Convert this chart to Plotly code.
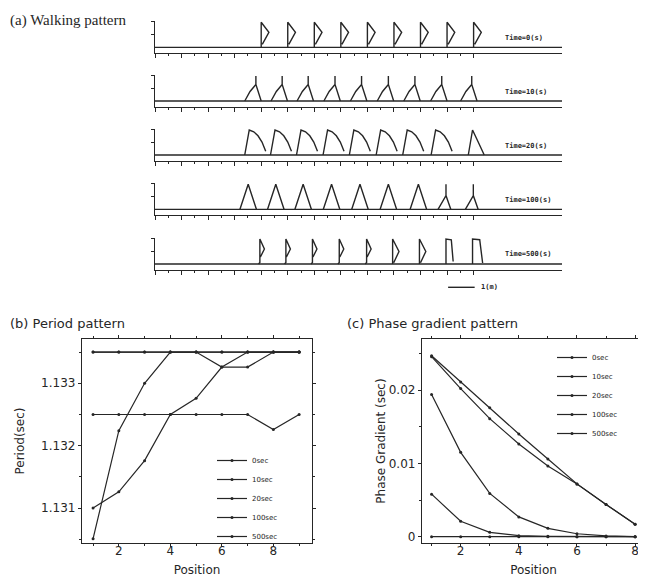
import plotly.graph_objects as go

# page body has an 8px margin: figure is sized so it ends at the window edge
OFF = 8
W, H = 646 - OFF, 577 - OFF
INK = "#262626"

# ---------------- (a) Walking pattern data ----------------
strip_labels = ["Time=0(s)", "Time=10(s)", "Time=20(s)", "Time=100(s)", "Time=500(s)"]
# reference x position (m) of each of the 9 legs in each strip
legs_t0 = [4.0, 5.0, 6.0, 7.0, 8.0, 9.0, 10.0, 11.0, 12.0]
legs_t10 = [3.80, 4.79, 5.77, 6.78, 7.78, 8.79, 9.79, 10.80, 11.93]
legs_t20 = [3.55, 4.52, 5.50, 6.50, 7.49, 8.50, 9.50, 10.57, 11.96]
legs_t100 = [3.51, 4.55, 5.58, 6.65, 7.72, 8.79, 9.92, 10.96, 11.99]
legs_t500 = [3.95, 4.93, 5.93, 6.94, 7.97, 8.95, 9.96, 10.96, 11.96]
# leg trajectory outlines: (dx in m, height as fraction of leg height)
leg_D_dx = [0, 0, 0.29, 0.04]
leg_D_dy = [0, 1, 0.6, 0.12]
leg_L_dx = [-0.42, -0.22, 0, 0, 0, 0.2]
leg_L_dy = [0, 0.38, 0.66, 1, 0.66, 0]
leg_A_dx = [-0.17, 0, 0.17, 0.33, 0.48, 0.62]
leg_A_dy = [0, 1, 0.93, 0.77, 0.52, 0.15]
leg_A9_dx = [-0.16, 0, 0.2, 0.44]
leg_A9_dy = [0, 1, 0.55, 0]
leg_T_dx = [-0.31, 0, 0.31]
leg_T_dy = [0, 1, 0]
leg_L2_dx = [-0.3, -0.1, 0, 0, 0, 0.18]
leg_L2_dy = [0, 0.35, 0.55, 1, 0.55, 0]
leg_P_dx = [-0.05, 0, 0, 0.17, 0.02]
leg_P_dy = [0, 0.06, 1, 0.6, 0.28]
leg_D2_dx = [0, 0, 0.24, 0.04]
leg_D2_dy = [0, 1, 0.5, 0.05]
leg_N1_dx = [0, 0, 0.2, 0.27]
leg_N1_dy = [0, 1, 0.97, 0.1]
leg_N2_dx = [0, 0, 0.27, 0.38]
leg_N2_dy = [0, 1, 0.97, 0.04]
templates = {
    "D": (leg_D_dx, leg_D_dy), "L": (leg_L_dx, leg_L_dy), "A": (leg_A_dx, leg_A_dy),
    "A9": (leg_A9_dx, leg_A9_dy), "T": (leg_T_dx, leg_T_dy), "L2": (leg_L2_dx, leg_L2_dy),
    "P": (leg_P_dx, leg_P_dy), "D2": (leg_D2_dx, leg_D2_dy), "N1": (leg_N1_dx, leg_N1_dy),
    "N2": (leg_N2_dx, leg_N2_dy),
}
strip_legs = [legs_t0, legs_t10, legs_t20, legs_t100, legs_t500]
strip_kinds = [
    ["D"] * 9,
    ["L"] * 9,
    ["A"] * 8 + ["A9"],
    ["T"] * 7 + ["L2", "L2"],
    ["P"] * 5 + ["D2", "D2", "N1", "N2"],
]
ruler_major = list(range(0, 13))
ruler_minor = [i + 0.5 for i in range(0, 12)]
scale_bar_start = 11.04
scale_bar_len = 1.0

# ---------------- (b) Period pattern data ----------------
pos_b = [1, 2, 3, 4, 5, 6, 7, 8, 9]
period_0s = [1.1325, 1.1325, 1.1325, 1.1325, 1.1325, 1.1325, 1.1325, 1.13226, 1.1325]
period_10s = [1.13051, 1.13224, 1.13300, 1.13350, 1.13350, 1.13350, 1.13350, 1.13350, 1.13350]
period_20s = [1.13100, 1.13126, 1.13176, 1.13250, 1.13276, 1.13326, 1.13350, 1.13350, 1.13350]
period_100s = [1.1335, 1.1335, 1.1335, 1.1335, 1.1335, 1.13326, 1.13326, 1.1335, 1.1335]
period_500s = [1.1335, 1.1335, 1.1335, 1.1335, 1.1335, 1.1335, 1.1335, 1.1335, 1.1335]
b_xticks = [2, 4, 6, 8]
b_xminor = [1, 3, 5, 7, 9]
b_yticks = [1.131, 1.132, 1.133]
b_yticktext = ["1.131", "1.132", "1.133"]
b_yminor = [1.1305, 1.1315, 1.1325, 1.1335]

# ---------------- (c) Phase gradient data ----------------
pos_c = [1, 2, 3, 4, 5, 6, 7, 8]
grad_0s = [0, 0, 0, 0, 0, 0, 0, 0]
grad_10s = [0.0058, 0.0021, 0.0006, 0.00014, 0.00005, 0, 0, 0]
grad_20s = [0.0194, 0.0115, 0.0059, 0.0027, 0.00114, 0.0004, 0.0001, 0]
grad_100s = [0.02455, 0.0202, 0.0161, 0.01264, 0.00964, 0.0072, 0.0044, 0.0017]
grad_500s = [0.02468, 0.0211, 0.0176, 0.0140, 0.01059, 0.0072, 0.0044, 0.0017]
c_xticks = [2, 4, 6, 8]
c_xminor = [1, 3, 5, 7]
c_yticks = [0, 0.01, 0.02]
c_yticktext = ["0", "0.01", "0.02"]
c_yminor = [0.005, 0.015, 0.025]

series_names = ["0sec", "10sec", "20sec", "100sec", "500sec"]


def px_x(p):
    return (p - OFF) / W


def px_y(p):
    return 1 - (p - OFF) / H


fig = go.Figure()
layout = dict(
    width=W, height=H, margin=dict(l=0, r=0, t=0, b=0), autosize=False,
    paper_bgcolor="white", plot_bgcolor="white", showlegend=True,
)
shapes = []
annotations = []

baselines = [47.3, 101.0, 155.0, 209.3, 264.0]
ax_left, ax_right = 155, 562
m_per_px = 1 / 26.55
xmax = (ax_right - ax_left) * m_per_px

for k in range(5):
    n = "" if k == 0 else str(k + 1)
    xs, ys = [], []
    for xp, kind in zip(strip_legs[k], strip_kinds[k]):
        dx, dy = templates[kind]
        xs += [xp + d for d in dx] + [None]
        ys += list(dy) + [None]
    fig.add_trace(go.Scatter(
        x=xs, y=ys, mode="lines", line=dict(color=INK, width=1.4),
        xaxis="x" + n, yaxis="y" + n, showlegend=False, hoverinfo="skip"))
    B = baselines[k]
    layout["xaxis" + n] = dict(
        domain=[px_x(ax_left), px_x(ax_right)], range=[0, xmax], anchor="y" + n,
        showline=True, linecolor=INK, linewidth=1.3, ticks="outside", ticklen=4,
        tickwidth=1.2, tickcolor=INK, tickmode="array", tickvals=ruler_major,
        showticklabels=False, showgrid=False, zeroline=False, automargin=False,
        minor=dict(tickmode="array", tickvals=ruler_minor, ticks="outside",
                   ticklen=2, tickcolor=INK, tickwidth=1),
    )
    layout["yaxis" + n] = dict(
        domain=[px_y(B + 6), px_y(B - 26)], range=[-0.24, 1.04], anchor="x" + n,
        showline=True, linecolor=INK, linewidth=1.3, ticks="outside", ticklen=3,
        tickcolor=INK, tickmode="array", tickvals=[0.5, 1.04], showticklabels=False,
        showgrid=False, zeroline=False, automargin=False,
    )
    shapes.append(dict(type="line", xref="x" + n + " domain", x0=0, x1=1,
                       yref="y" + n, y0=0, y1=0, line=dict(color=INK, width=1.3)))
    annotations.append(dict(
        text=strip_labels[k], xref="x" + n, yref="y" + n, x=13.1, y=0.38,
        xanchor="left", yanchor="middle", showarrow=False,
        font=dict(family="DejaVu Sans Mono", size=7, color=INK, weight="bold")))

# scale bar
shapes.append(dict(type="line", xref="x5", x0=scale_bar_start,
                   x1=scale_bar_start + scale_bar_len, yref="paper",
                   y0=px_y(287.3), y1=px_y(287.3), line=dict(color=INK, width=1.4)))
annotations.append(dict(
    text="1(m)", xref="x5", yref="paper", x=scale_bar_start + scale_bar_len + 0.15,
    y=px_y(287.3), xanchor="left", yanchor="middle", showarrow=False,
    font=dict(family="DejaVu Sans Mono", size=7, color=INK, weight="bold")))

annotations.append(dict(
    text="(a) Walking pattern", xref="paper", yref="paper", x=px_x(8), y=px_y(21),
    xanchor="left", yanchor="middle", showarrow=False,
    font=dict(family="Liberation Serif", size=15, color=INK)))
annotations.append(dict(
    text="(b) Period pattern", xref="paper", yref="paper", x=px_x(8), y=px_y(323),
    xanchor="left", yanchor="middle", showarrow=False,
    font=dict(family="DejaVu Sans", size=13, color=INK)))
annotations.append(dict(
    text="(c) Phase gradient pattern", xref="paper", yref="paper", x=px_x(345), y=px_y(323),
    xanchor="left", yanchor="middle", showarrow=False,
    font=dict(family="DejaVu Sans", size=13, color=INK)))

# ---------------- (b) traces ----------------
for name, vals in zip(series_names, [period_0s, period_10s, period_20s, period_100s, period_500s]):
    fig.add_trace(go.Scatter(
        x=pos_b, y=vals, name=name, mode="lines+markers",
        line=dict(color=INK, width=1.2), marker=dict(size=3, color=INK),
        xaxis="x6", yaxis="y6", legend="legend"))

# ---------------- (c) traces ----------------
for name, vals in zip(series_names, [grad_0s, grad_10s, grad_20s, grad_100s, grad_500s]):
    fig.add_trace(go.Scatter(
        x=pos_c, y=vals, name=name, mode="lines+markers",
        line=dict(color=INK, width=1.2), marker=dict(size=3, color=INK),
        xaxis="x7", yaxis="y7", legend="legend2"))

tickfont = dict(family="DejaVu Sans", size=12, color=INK)
titlefont = dict(family="DejaVu Sans", size=12, color=INK)


def box_axis(**kw):
    d = dict(showline=True, linecolor=INK, linewidth=1.3, mirror="ticks",
             ticks="outside", tickcolor=INK, ticklen=3, tickwidth=1.2, tickmode="array",
             showgrid=False, zeroline=False, automargin=False, tickfont=tickfont)
    d.update(kw)
    return d


def minor_ticks(vals):
    return dict(tickmode="array", tickvals=vals, ticks="outside", ticklen=2,
                tickcolor=INK, tickwidth=1)


layout["xaxis6"] = box_axis(domain=[px_x(82), px_x(312)], range=[0.57, 9.5], anchor="y6",
                            tickvals=b_xticks, minor=minor_ticks(b_xminor),
                            ticklabelstandoff=-7,
                            title=dict(text="Position", font=titlefont, standoff=16))
layout["yaxis6"] = box_axis(domain=[px_y(543), px_y(339)], range=[1.13044, 1.13371], anchor="x6",
                            tickvals=b_yticks, ticktext=b_yticktext, minor=minor_ticks(b_yminor),
                            title=dict(text="Period(sec)", font=titlefont, standoff=13))
layout["xaxis7"] = box_axis(domain=[px_x(422), px_x(645)], range=[0.67, 8.34], anchor="y7",
                            tickvals=c_xticks, minor=minor_ticks(c_xminor),
                            ticklabelstandoff=-7,
                            title=dict(text="Position", font=titlefont, standoff=16))
layout["yaxis7"] = box_axis(domain=[px_y(543), px_y(339)], range=[-0.00086, 0.02696], anchor="x7",
                            tickvals=c_yticks, ticktext=c_yticktext, minor=minor_ticks(c_yminor),
                            ticklabelstandoff=0,
                            title=dict(text="Phase Gradient (sec)", font=titlefont, standoff=0))

legfont = dict(family="DejaVu Sans", size=7, color=INK)
layout["legend"] = dict(x=px_x(212), y=px_y(446), xanchor="left", yanchor="top",
                        font=legfont, bgcolor="rgba(0,0,0,0)", borderwidth=0)
layout["legend2"] = dict(x=px_x(552), y=px_y(343), xanchor="left", yanchor="top",
                         font=legfont, bgcolor="rgba(0,0,0,0)", borderwidth=0)
layout["shapes"] = shapes
layout["annotations"] = annotations
fig.update_layout(**layout)
fig.write_html("out.html")
